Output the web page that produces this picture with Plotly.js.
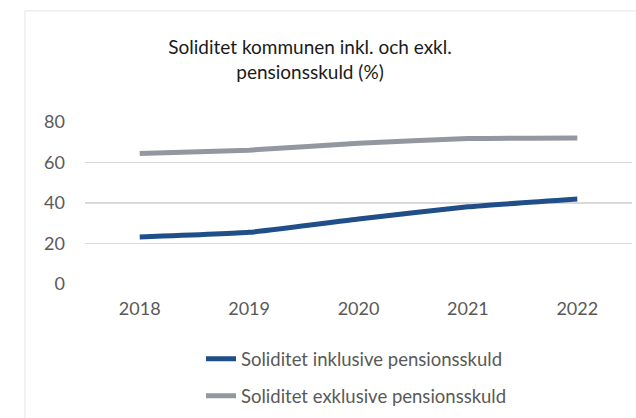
<!DOCTYPE html>
<html>
<head>
<meta charset="utf-8">
<script src="https://cdn.plot.ly/plotly-3.0.1.min.js"></script>
<style>
  html, body { margin: 0; padding: 0; background: #fff; }
  #chart { width: 636px; height: 418px; }
</style>
</head>
<body>
<div id="chart"></div>
<script>
const years = ['2018', '2019', '2020', '2021', '2022'];
const inklusive = [23.2, 25.5, 32.1, 38.1, 42.0];
const exklusive = [64.4, 66.1, 69.5, 71.8, 72.1];
const seriesNames = ['Soliditet inklusive pensionsskuld', 'Soliditet exklusive pensionsskuld'];
const titleText = 'Soliditet kommunen inkl. och exkl.<br>pensionsskuld (%)';

const FONT = 'Lato, "Open Sans", sans-serif';

const traces = [
  {
    x: years, y: inklusive, name: seriesNames[0], type: 'scatter', mode: 'lines',
    legendgroup: 'a',
    line: { color: '#1f4e89', width: 5, shape: 'spline', smoothing: 0.4 }
  },
  {
    x: years, y: exklusive, name: seriesNames[1], type: 'scatter', mode: 'lines',
    legendgroup: 'b',
    line: { color: '#93979f', width: 5, shape: 'spline', smoothing: 0.4 }
  }
];

const layout = {
  width: 636, height: 418,
  margin: { l: 85, r: 4, t: 122, b: 134, autoexpand: false },
  paper_bgcolor: '#ffffff', plot_bgcolor: '#ffffff',
  font: { family: FONT, color: '#595959', size: 18 },
  title: {
    text: titleText,
    font: { family: FONT, size: 19, color: '#1a1a1a' },
    xref: 'container', x: 310 / 636, xanchor: 'center',
    yref: 'container', y: 0.870, yanchor: 'middle'
  },
  xaxis: {
    type: 'category', range: [-0.5, 4.5],
    showgrid: false, zeroline: false, showline: false,
    ticks: '', ticklabelstandoff: 12, tickangle: 0,
    tickfont: { family: FONT, size: 18, color: '#595959' },
    fixedrange: true
  },
  yaxis: {
    range: [0, 80], dtick: 20, tick0: 0,
    showgrid: true, gridcolor: '#d9d9d9', gridwidth: 1.5,
    zeroline: false, showline: false,
    ticks: '', ticklabelstandoff: 19,
    tickfont: { family: FONT, size: 18, color: '#595959' },
    fixedrange: true
  },
  showlegend: true,
  legend: {
    orientation: 'v', traceorder: 'grouped', tracegroupgap: 10,
    xref: 'paper', yref: 'paper',
    x: (201 - 85) / 547, xanchor: 'left',
    y: (284 - 340) / 161.3, yanchor: 'top',
    font: { family: FONT, size: 18.5, color: '#595959' },
    bgcolor: 'rgba(0,0,0,0)'
  },
  shapes: [
    {
      type: 'rect', xref: 'paper', yref: 'paper',
      x0: -0.1097, x1: 1.2, y0: -1.2, y1: 1.686,
      line: { color: '#e4e4e4', width: 1 }, fillcolor: 'rgba(0,0,0,0)',
      layer: 'below'
    }
  ]
};

Plotly.newPlot('chart', traces, layout, { staticPlot: true, displayModeBar: false });
</script>
</body>
</html>
